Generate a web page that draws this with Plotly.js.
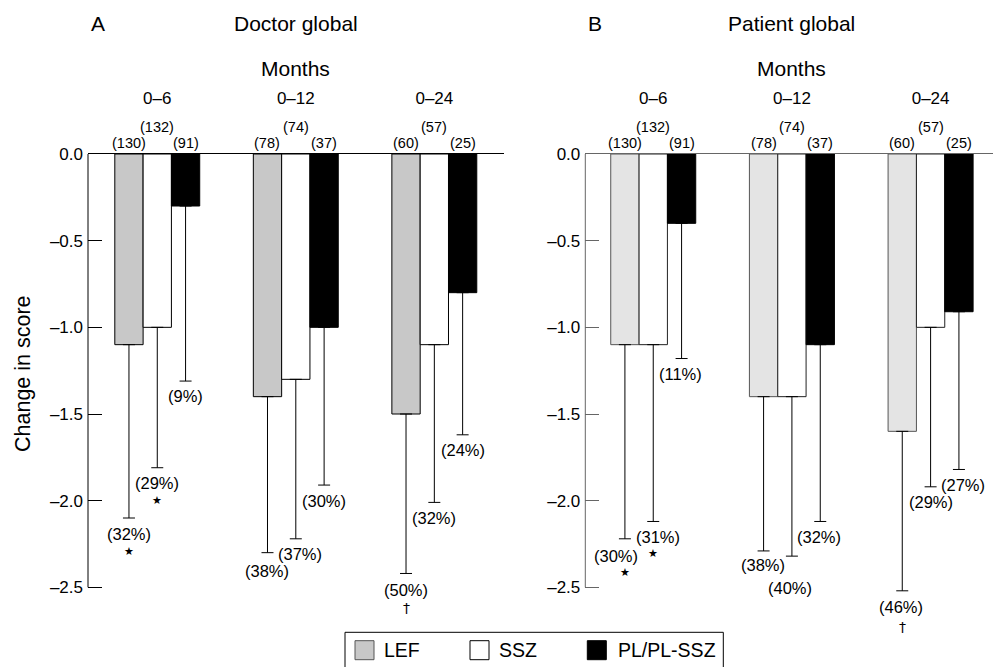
<!DOCTYPE html>
<html><head><meta charset="utf-8">
<script src="https://cdn.plot.ly/plotly-3.0.1.min.js"></script>
<style>html,body{margin:0;padding:0;background:#fff}#chart{width:993px;height:667px}</style>
</head><body><div id="chart"></div>
<script>
// ---------- data ----------
const periods = ['0\u20136', '0\u201312', '0\u201324'];
const groupNames = ['LEF', 'SSZ', 'PL/PL-SSZ'];
const yTickVals = [0, -0.5, -1.0, -1.5, -2.0, -2.5];
const yTickText = ['0.0', '\u20130.5', '\u20131.0', '\u20131.5', '\u20132.0', '\u20132.5'];

// Panel A: Doctor global (mean change and lower end of the bar's error line)
const doctorLEF = [-1.1, -1.4, -1.5];
const doctorSSZ = [-1.0, -1.3, -1.1];
const doctorPL  = [-0.3, -1.0, -0.8];
const doctorLEFLow = [-2.1, -2.3, -2.42];
const doctorSSZLow = [-1.81, -2.22, -2.01];
const doctorPLLow  = [-1.31, -1.91, -1.62];
const doctorLEFPct = ['(32%)', '(38%)', '(50%)'];
const doctorSSZPct = ['(29%)', '(37%)', '(32%)'];
const doctorPLPct  = ['(9%)', '(30%)', '(24%)'];
const doctorLEFSig = ['\u2605', '', '\u2020'];
const doctorSSZSig = ['\u2605', '', ''];
const doctorPLSig  = ['', '', ''];

// Panel B: Patient global
const patientLEF = [-1.1, -1.4, -1.6];
const patientSSZ = [-1.1, -1.4, -1.0];
const patientPL  = [-0.4, -1.1, -0.91];
const patientLEFLow = [-2.22, -2.29, -2.52];
const patientSSZLow = [-2.12, -2.32, -1.92];
const patientPLLow  = [-1.18, -2.12, -1.82];
const patientLEFPct = ['(30%)', '(38%)', '(46%)'];
const patientSSZPct = ['(31%)', '(40%)', '(29%)'];
const patientPLPct  = ['(11%)', '(32%)', '(27%)'];
const patientLEFSig = ['\u2605', '', '\u2020'];
const patientSSZSig = ['\u2605', '', ''];
const patientPLSig  = ['', '', ''];

// numbers of patients (same in both panels)
const nLEF = [130, 78, 60];
const nSSZ = [132, 74, 57];
const nPL  = [91, 37, 25];

// ---------- styling / placement ----------
const FONT = '"Liberation Sans", Arial, Helvetica, sans-serif';
const W = 993, H = 667, MT = 154, MB = 45;
const plotH = H - MT - MB;
const px2x = px => px / W;                    // margins l = r = 0
const py2y = py => (H - MB - py) / plotH;     // paper y from a pixel row
const BARGAP = 0.387;
const slot = (1 - BARGAP) / 3;
const offs = [-slot, 0, slot];
// pixel nudges [xshift, yshift] of the percentage labels (per group, per period)
const pctNudgeA = [
  [[0, -16], [0, -18.5], [0, -16.5]],
  [[0, -15.5], [4.5, -15], [0, -16]],
  [[0, -14.5], [0, -15.5], [0, -15.5]]
];
const pctNudgeB = [
  [[-8.5, -17.5], [-1, -14.5], [-1, -16]],
  [[5, -16], [-1.5, -32], [0, -15]],
  [[-1.5, -15], [-1.3, -15.5], [4.3, -15.5]]
];
const sigNudgeA = [[-33, 0, -35], [-33, 0, 0], [0, 0, 0]];
const sigNudgeB = [[-33.5, 0, -36], [-32.5, 0, 0], [0, 0, 0]];

const panels = [
  {xa: 'x', ya: 'y', vals: [doctorLEF, doctorSSZ, doctorPL], lows: [doctorLEFLow, doctorSSZLow, doctorPLLow],
   pct: [doctorLEFPct, doctorSSZPct, doctorPLPct], sig: [doctorLEFSig, doctorSSZSig, doctorPLSig],
   fills: ['#c8c8c8', '#ffffff', '#000000'], lines: ['#000', '#000', '#000'], axisColor: '#000',
   pctNudge: pctNudgeA, sigNudge: sigNudgeA, letter: 'A', title: 'Doctor global'},
  {xa: 'x2', ya: 'y2', vals: [patientLEF, patientSSZ, patientPL], lows: [patientLEFLow, patientSSZLow, patientPLLow],
   pct: [patientLEFPct, patientSSZPct, patientPLPct], sig: [patientLEFSig, patientSSZSig, patientPLSig],
   fills: ['#e4e4e4', '#ffffff', '#000000'], lines: ['#555', '#222', '#000'], axisColor: '#666',
   pctNudge: pctNudgeB, sigNudge: sigNudgeB, letter: 'B', title: 'Patient global'}
];
const nAll = [nLEF, nSSZ, nPL];
const nShift = [11, 27, 11];

const traces = [];
const annotations = [];
const shapes = [];

panels.forEach(p => {
  p.vals.forEach((v, g) => {
    traces.push({
      type: 'bar', x: periods, y: v, name: groupNames[g],
      xaxis: p.xa, yaxis: p.ya, showlegend: false,
      marker: {color: p.fills[g], line: {color: p.lines[g], width: 1}},
      error_y: {type: 'data', symmetric: false, array: v.map(() => 0),
                arrayminus: v.map((val, i) => val - p.lows[g][i]),
                color: '#000', thickness: 1, width: 6},
      hoverinfo: 'skip'
    });
    v.forEach((val, i) => {
      const xpos = i + offs[g];
      annotations.push({xref: p.xa, yref: p.ya, x: xpos, y: 0, yanchor: 'middle', xanchor: 'center',
        yshift: nShift[g], text: '(' + nAll[g][i] + ')', showarrow: false, font: {size: 14.5, color: '#000'}});
      const nd = p.pctNudge[g][i];
      annotations.push({xref: p.xa, yref: p.ya, x: xpos, y: p.lows[g][i], yanchor: 'middle', xanchor: 'center',
        xshift: nd[0], yshift: nd[1], text: p.pct[g][i], showarrow: false, font: {size: 16.5, color: '#000'}});
      if (p.sig[g][i]) {
        annotations.push({xref: p.xa, yref: p.ya, x: xpos, y: p.lows[g][i], yanchor: 'middle', xanchor: 'center',
          yshift: p.sigNudge[g][i], text: p.sig[g][i], showarrow: false,
          font: {size: p.sig[g][i] === '\u2605' ? 11 : 14, color: '#000', family: '"DejaVu Sans", ' + FONT}});
      }
    });
  });
  annotations.push({xref: p.xa, yref: 'paper', x: 1, y: 1, yshift: 131, yanchor: 'middle', xanchor: 'center',
    text: p.title, showarrow: false, font: {size: 21, color: '#000'}});
  annotations.push({xref: p.xa + ' domain', yref: 'paper', x: 0, xshift: 1, y: 1, yshift: 131, yanchor: 'middle', xanchor: 'left',
    text: p.letter, showarrow: false, font: {size: 21, color: '#000'}});
  annotations.push({xref: p.xa, yref: 'paper', x: 1, y: 1, yshift: 86, yanchor: 'middle', xanchor: 'center',
    text: 'Months', showarrow: false, font: {size: 21, color: '#000'}});
  shapes.push({type: 'line', xref: p.xa + ' domain', yref: p.ya, x0: 0, x1: 0, y0: 0, y1: -2.5,
    line: {color: p.axisColor, width: 1}});
});

// y-axis title of panel A
annotations.push({xref: 'paper', yref: 'paper', x: px2x(23), y: py2y(374), xanchor: 'center', yanchor: 'middle',
  textangle: -90, text: 'Change in score', showarrow: false, font: {size: 21.5, color: '#000'}});

// legend (box, swatches and names)
const legBox = {x0: 345, x1: 723.3, y0: 632.3, y1: 680};
const legSwatchX = [355, 470, 587.3];
const legTextX = [381.5, 496.5, 615.5];
const legSwatchTop = 640.7, legSwatchSize = 19;
const legFill = panels[0].fills, legLine = ['#555', '#000', '#000'];
shapes.push({type: 'rect', xref: 'paper', yref: 'paper', x0: px2x(legBox.x0), x1: px2x(legBox.x1),
  y0: py2y(legBox.y0), y1: py2y(legBox.y1), line: {color: '#000', width: 1}, fillcolor: 'rgba(0,0,0,0)'});
groupNames.forEach((nm, g) => {
  shapes.push({type: 'rect', xref: 'paper', yref: 'paper', x0: px2x(legSwatchX[g]), x1: px2x(legSwatchX[g] + legSwatchSize),
    y0: py2y(legSwatchTop), y1: py2y(legSwatchTop + legSwatchSize), line: {color: legLine[g], width: 1}, fillcolor: legFill[g]});
  annotations.push({xref: 'paper', yref: 'paper', x: px2x(legTextX[g]), y: py2y(legSwatchTop + legSwatchSize / 2),
    xanchor: 'left', yanchor: 'middle', text: nm, showarrow: false, font: {size: 19.5, color: '#000'}});
});

function xAxis(domain, range, color) {
  return {domain: domain, range: range, type: 'category', side: 'top', showline: true, linecolor: color, linewidth: 1,
    ticks: '', showgrid: false, zeroline: false, fixedrange: true, ticklabelstandoff: 42,
    tickfont: {size: 17, color: '#000'}};
}
function yAxis(color) {
  return {range: [-2.7, 0], tickvals: yTickVals, ticktext: yTickText, ticks: 'inside', ticklen: 14,
    tickcolor: color, tickwidth: 1, showline: false, showgrid: false, zeroline: false, fixedrange: true,
    ticklabelstandoff: 4, tickfont: {size: 17, color: '#000'}};
}

const layout = {
  width: W, height: H,
  margin: {l: 0, r: 0, t: MT, b: MB},
  paper_bgcolor: '#fff', plot_bgcolor: '#fff',
  font: {family: FONT, color: '#000'},
  barmode: 'group', bargap: BARGAP, bargroupgap: 0,
  xaxis: Object.assign(xAxis([88 / W, 503.6 / W], [-0.5, 2.5], '#000'), {anchor: 'y'}),
  yaxis: Object.assign(yAxis('#000'), {anchor: 'x'}),
  xaxis2: Object.assign(xAxis([585.3 / W, 1], [-0.49, 2.45], '#666'), {anchor: 'y2'}),
  yaxis2: Object.assign(yAxis('#666'), {anchor: 'x2'}),
  showlegend: false,
  annotations: annotations,
  shapes: shapes
};

Plotly.newPlot('chart', traces, layout, {staticPlot: true, displayModeBar: false});
</script>
</body></html>
